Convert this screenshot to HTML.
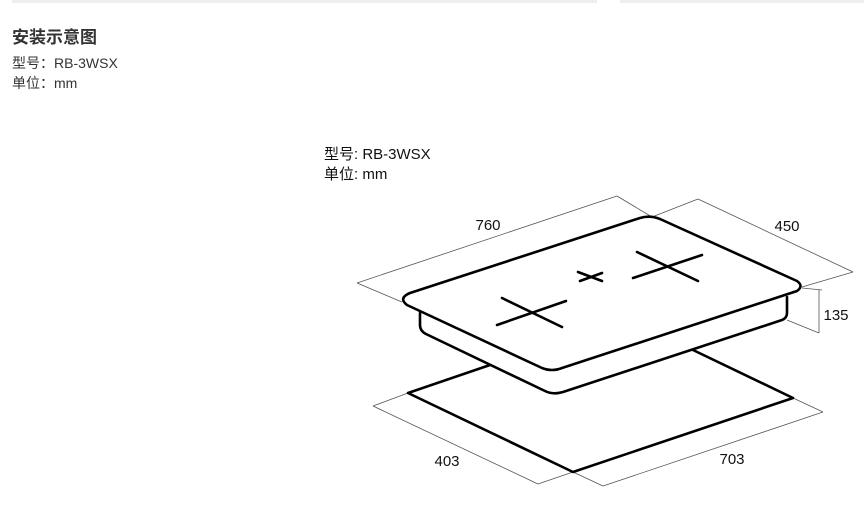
<!DOCTYPE html>
<html><head><meta charset="utf-8"><style>
body{margin:0;width:864px;height:514px;background:#fff;position:relative;overflow:hidden;font-family:"Liberation Sans","Noto Sans CJK SC",sans-serif;}
.bar{position:absolute;top:0;height:3px;background:#eee;}
.t{position:absolute;white-space:nowrap;color:#333;}
</style></head><body>
<div class="bar" style="left:12px;width:585px"></div>
<div class="bar" style="left:620px;width:244px"></div>
<div class="t" style="left:12px;top:23px;font-size:17px;font-weight:bold;">安装示意图</div>
<div class="t" style="left:12px;top:53px;font-size:14px;">型号：RB-3WSX</div>
<div class="t" style="left:12px;top:73px;font-size:14px;">单位：mm</div>
<svg width="864" height="514" style="position:absolute;left:0;top:0" font-family="Liberation Sans, Noto Sans CJK SC, sans-serif">
<text x="324" y="159" font-size="15" fill="#111">型号: RB-3WSX</text>
<text x="324" y="179" font-size="15" fill="#111">单位: mm</text>
<g stroke="#555" stroke-width="0.8" fill="none">
<line x1="357" y1="283" x2="617" y2="196"/>
<line x1="357" y1="283" x2="402" y2="302"/>
<line x1="617" y1="196" x2="652" y2="217"/>
<line x1="698" y1="199" x2="652" y2="217"/>
<line x1="698" y1="199" x2="853" y2="272"/>
<line x1="802" y1="287" x2="853" y2="272"/>
<line x1="819" y1="290" x2="819" y2="333"/>
<line x1="802" y1="288" x2="822" y2="290"/>
<line x1="787" y1="320" x2="819" y2="333"/>
<line x1="373" y1="406" x2="538" y2="484"/>
<line x1="373" y1="406" x2="408" y2="393"/>
<line x1="538" y1="484" x2="573" y2="472"/>
<line x1="573" y1="472" x2="603" y2="486"/>
<line x1="603" y1="486" x2="823" y2="412"/>
<line x1="793" y1="398" x2="823" y2="412"/>
</g>
<g stroke="#000" stroke-width="2.6" fill="none" stroke-linejoin="round" stroke-linecap="round">
<polyline points="490,365 408,393 573,472 793,398 693,350"/>
<path d="M420,313 L420,325 Q420,331 426,334 L545,391 Q553,395 563,392 L782,320 Q787,318 787,313 L787,297"/>
<path d="M410,293 L640,218 Q650,215 660,219 L797,281 Q804,286 797,291 L562,368 Q552,372 542,368 L407,305 Q398,298 410,293 Z" fill="#fff"/>
<line x1="502" y1="298" x2="562" y2="327"/>
<line x1="497" y1="325" x2="566" y2="301"/>
<line x1="578" y1="272" x2="602" y2="281"/>
<line x1="580" y1="281" x2="602" y2="273"/>
<line x1="637" y1="252" x2="698" y2="281"/>
<line x1="633" y1="278" x2="702" y2="255"/>
</g>
<g font-size="15" fill="#111" text-anchor="middle">
<text x="488" y="230">760</text>
<text x="787" y="231">450</text>
<text x="836" y="320">135</text>
<text x="447" y="466">403</text>
<text x="732" y="464">703</text>
</g>
</svg>
</body></html>
